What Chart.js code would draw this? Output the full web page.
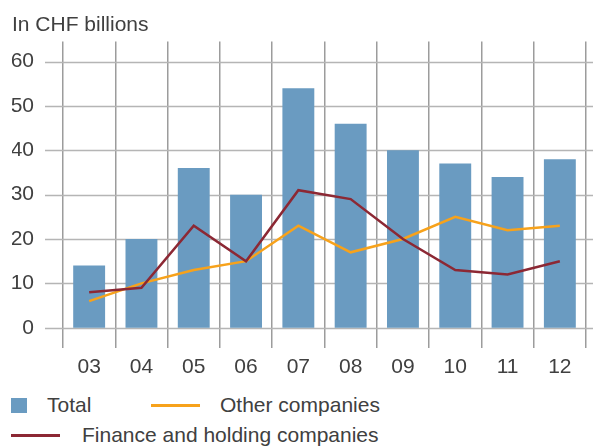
<!DOCTYPE html>
<html lang="en">
<head>
  <meta charset="UTF-8">
  <title>Investment by company type</title>
  <script src="https://cdn.jsdelivr.net/npm/chart.js"></script>
  <style>
    body { margin: 0; background: #fff; }
    #wrap { position: relative; width: 593px; height: 446px; font-family: "Liberation Sans", Arial, sans-serif; color: #404040; }
    #chartBox { position: absolute; left: 0; top: 0; width: 593px; height: 390px; }
    .key { position: absolute; font-size: 21px; line-height: 24px; white-space: nowrap; }
    .swatch { position: absolute; }
  </style>
</head>
<body>
  <div id="wrap">
    <div id="chartBox"><canvas id="chart"></canvas></div>
    <!-- legend -->
    <div class="swatch" style="left:11px;top:398px;width:16px;height:15px;background:#6a9bc1"></div>
    <div class="key" style="left:47px;top:393px">Total</div>
    <div class="swatch" style="left:151px;top:404px;width:49px;height:3px;background:#f7a21b"></div>
    <div class="key" style="left:220px;top:393px">Other companies</div>
    <div class="swatch" style="left:11px;top:434px;width:49px;height:3px;background:#8c2834"></div>
    <div class="key" style="left:82px;top:423px">Finance and holding companies</div>
  </div>

  <script>
    const years = ['03', '04', '05', '06', '07', '08', '09', '10', '11', '12'];
    const total = [14, 20, 36, 30, 54, 46, 40, 37, 34, 38];
    const otherCompanies = [6, 10, 13, 15, 23, 17, 20, 25, 22, 23];
    const financeHolding = [8, 9, 23, 15, 31, 29, 20, 13, 12, 15];
    const yTicks = [0, 10, 20, 30, 40, 50, 60];

    const font = { family: '"Liberation Sans", Arial, sans-serif', size: 21, weight: 'normal' };
    const textColor = '#404040';

    // horizontal grid lines run past the plot area on both sides
    const hGrid = {
      id: 'hGrid',
      beforeDatasetsDraw(chart) {
        const ctx = chart.ctx;
        const y = chart.scales.y;
        ctx.save();
        ctx.strokeStyle = '#b5b5b5';
        ctx.lineWidth = 1.5;
        yTicks.forEach(v => {
          const py = Math.round(y.getPixelForValue(v)) + 0.5;
          ctx.beginPath();
          ctx.moveTo(45, py);
          ctx.lineTo(chart.width, py);
          ctx.stroke();
        });
        ctx.restore();
      }
    };

    new Chart(document.getElementById('chart'), {
      data: {
        labels: years,
        datasets: [
          {
            type: 'line',
            label: 'Other companies',
            data: otherCompanies,
            borderColor: '#f7a21b',
            borderWidth: 2.5,
            pointRadius: 0,
            tension: 0,
            order: 1
          },
          {
            type: 'line',
            label: 'Finance and holding companies',
            data: financeHolding,
            borderColor: '#8c2834',
            borderWidth: 2.5,
            pointRadius: 0,
            tension: 0,
            order: 0
          },
          {
            type: 'bar',
            label: 'Total',
            data: total,
            backgroundColor: '#6a9bc1',
            barPercentage: 0.61,
            categoryPercentage: 1,
            order: 2
          }
        ]
      },
      options: {
        responsive: true,
        maintainAspectRatio: false,
        animation: false,
        layout: { padding: { left: 12, right: 7, top: 0, bottom: 1 } },
        plugins: {
          legend: { display: false },
          tooltip: { enabled: false },
          title: {
            display: true,
            text: 'In CHF billions',
            align: 'start',
            color: textColor,
            font: font,
            padding: { top: 12, bottom: 4 }
          }
        },
        scales: {
          x: {
            offset: true,
            grid: { offset: true, color: '#9c9c9c', lineWidth: 1.5, drawTicks: false },
            border: { display: false },
            ticks: { color: textColor, font: font, padding: 6 }
          },
          y: {
            min: -4.66,
            max: 64.5,
            afterBuildTicks: scale => { scale.ticks = yTicks.map(v => ({ value: v })); },
            afterFit: scale => { scale.width = 51; },
            grid: { display: false, drawTicks: false },
            border: { display: false },
            ticks: { color: textColor, font: font, padding: 29 }
          }
        }
      },
      plugins: [hGrid]
    });
  </script>
</body>
</html>
